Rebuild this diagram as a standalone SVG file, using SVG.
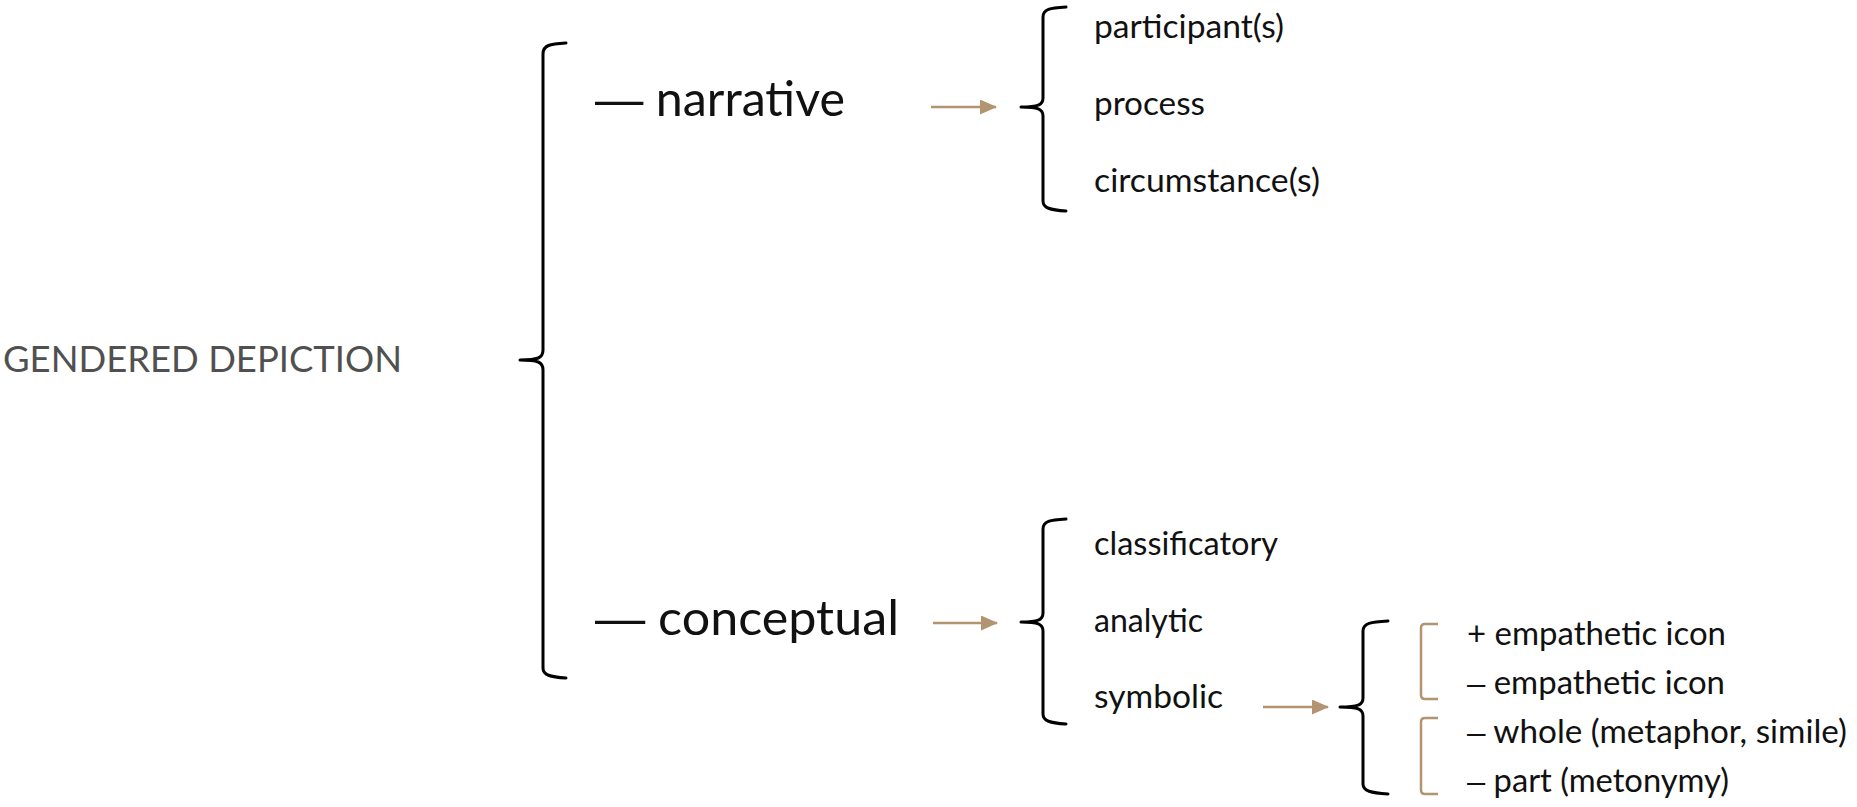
<svg xmlns="http://www.w3.org/2000/svg" width="1857" height="807" viewBox="0 0 1857 807">
<style>
  text { font-family: Lato, "Liberation Sans", sans-serif; fill: #111; }
  .title { font-size: 36px; fill: #505050; }
  .big { font-size: 48px; }
  .small { font-size: 32px; }
  .dash { font-family: "Liberation Sans", sans-serif; }
  .brace { fill: none; stroke: #000; stroke-width: 3; stroke-linecap: round; stroke-linejoin: round; }
  .tan { fill: none; stroke: #b39470; stroke-width: 2.5; }
  .arrow { stroke: #b39470; stroke-width: 2.5; fill: none; }
</style>
<defs>
  <marker id="ah" markerWidth="17" markerHeight="15" refX="16" refY="7.5" orient="auto" markerUnits="userSpaceOnUse">
    <path d="M0,0 L17,7.5 L0,15 Z" fill="#b39470"/>
  </marker>
</defs>
<rect width="1857" height="807" fill="#fff"/>

<g id="connectors">
  <!-- main brace -->
  <path class="brace" d="M566,43 C550,44 543,45 543,54 L543,350 C543,358 538,360 520,360 C538,360 543,362 543,370 L543,668 C543,675 550,677 566,678"/>
  <!-- narrative brace -->
  <path class="brace" d="M1066,7 C1050,8 1043,9 1043,17 L1043,98 C1043,105 1038,107 1021,107 C1038,107 1043,109 1043,116 L1043,201 C1043,208 1050,210 1066,211"/>
  <!-- conceptual brace -->
  <path class="brace" d="M1066,519 C1050,520 1043,521 1043,529 L1043,613 C1043,620 1038,622 1021,622 C1038,622 1043,624 1043,631 L1043,714 C1043,721 1050,723 1066,724"/>
  <!-- symbolic brace -->
  <path class="brace" d="M1388,621 C1371,622 1363,623 1363,631 L1363,698 C1363,705 1358,707 1340,707 C1358,707 1363,709 1363,716 L1363,784 C1363,791 1371,793 1388,794"/>
  <!-- tan brackets -->
  <path class="tan" d="M1438,624 L1425,624 Q1421,624 1421,628 L1421,695 Q1421,699 1425,699 L1438,699"/>
  <path class="tan" d="M1438,718 L1425,718 Q1421,718 1421,722 L1421,790 Q1421,794 1425,794 L1438,794"/>
  <!-- arrows -->
  <line class="arrow" x1="931" y1="107" x2="996" y2="107" marker-end="url(#ah)"/>
  <line class="arrow" x1="933" y1="623" x2="997" y2="623" marker-end="url(#ah)"/>
  <line class="arrow" x1="1263" y1="707" x2="1328" y2="707" marker-end="url(#ah)"/>
</g>

<g id="node-gendered-depiction">
  <text class="title" x="3" y="372" textLength="399" lengthAdjust="spacingAndGlyphs">GENDERED DEPICTION</text>
</g>
<g id="node-narrative">
  <text class="big" x="595" y="116" textLength="250" lengthAdjust="spacingAndGlyphs"><tspan class="dash">—</tspan> narrative</text>
</g>
<g id="node-conceptual">
  <text class="big" x="595" y="635" textLength="304" lengthAdjust="spacingAndGlyphs"><tspan class="dash">—</tspan> conceptual</text>
</g>
<g id="node-participants">
  <text class="small" x="1094" y="38" textLength="190" lengthAdjust="spacingAndGlyphs">participant(s)</text>
</g>
<g id="node-process">
  <text class="small" x="1094" y="115" textLength="111" lengthAdjust="spacingAndGlyphs">process</text>
</g>
<g id="node-circumstances">
  <text class="small" x="1094" y="192" textLength="226" lengthAdjust="spacingAndGlyphs">circumstance(s)</text>
</g>
<g id="node-classificatory">
  <text class="small" x="1094" y="555" textLength="184" lengthAdjust="spacingAndGlyphs">classificatory</text>
</g>
<g id="node-analytic">
  <text class="small" x="1094" y="632" textLength="109" lengthAdjust="spacingAndGlyphs">analytic</text>
</g>
<g id="node-symbolic">
  <text class="small" x="1094" y="708" textLength="129" lengthAdjust="spacingAndGlyphs">symbolic</text>
</g>
<g id="node-plus-empathetic">
  <text class="small" x="1467" y="645" textLength="259" lengthAdjust="spacingAndGlyphs">+ empathetic icon</text>
</g>
<g id="node-minus-empathetic">
  <text class="small" x="1467" y="694" textLength="258" lengthAdjust="spacingAndGlyphs"><tspan class="dash">–</tspan> empathetic icon</text>
</g>
<g id="node-whole">
  <text class="small" x="1467" y="743" textLength="380" lengthAdjust="spacingAndGlyphs"><tspan class="dash">–</tspan> whole (metaphor, simile)</text>
</g>
<g id="node-part">
  <text class="small" x="1467" y="792" textLength="262" lengthAdjust="spacingAndGlyphs"><tspan class="dash">–</tspan> part (metonymy)</text>
</g>
</svg>
